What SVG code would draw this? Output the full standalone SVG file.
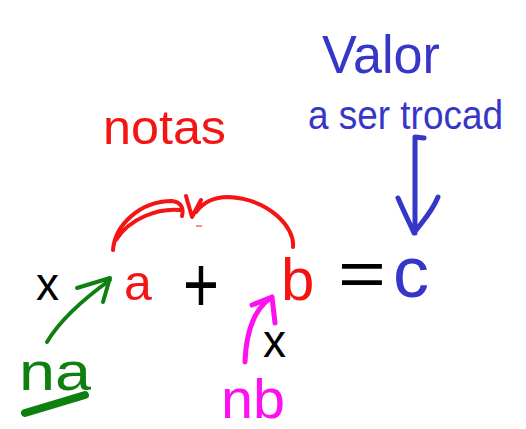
<svg xmlns="http://www.w3.org/2000/svg" width="526" height="429" viewBox="0 0 526 429">
<style>
text{font-family:"Liberation Sans",Arial,sans-serif}
.blue{fill:#3636c8}.red{fill:#f41414}.green{fill:#0f7f10}.mag{fill:#ff10f0}.blk{fill:#000}
.s{fill:none;stroke-linecap:round;stroke-linejoin:round}
.sb{stroke:#3636c8;stroke-width:5}.sr{stroke:#f41414;stroke-width:4}.sg{stroke:#0f7f10;stroke-width:4}.sm{stroke:#ff10f0;stroke-width:5}
</style>
<rect width="526" height="429" fill="#fff"/>
<g id="valor"><text class="blue" x="322" y="73" font-size="54" textLength="118" lengthAdjust="spacingAndGlyphs">Valor</text>
<text class="blue" x="308" y="129" font-size="40" textLength="195" lengthAdjust="spacingAndGlyphs">a ser trocad</text></g>
<g id="notas"><text class="red" x="103" y="144" font-size="48" textLength="123" lengthAdjust="spacingAndGlyphs">notas</text></g>
<g id="x1"><text class="blk" x="36" y="300" font-size="46">x</text></g>
<g id="a"><text class="red" x="124" y="300" font-size="50">a</text></g>
<g id="plus"><text class="blk" x="183" y="312" font-size="80" textLength="36" lengthAdjust="spacingAndGlyphs">+</text></g>
<g id="b"><text class="red" x="281" y="300" font-size="60">b</text></g>
<g id="eq"><text class="blk" x="338" y="296" font-size="64" textLength="48" lengthAdjust="spacingAndGlyphs">=</text></g>
<g id="c"><text class="blue" x="393" y="297" font-size="72" textLength="36" lengthAdjust="spacingAndGlyphs">c</text></g>
<g id="x2"><text class="blk" x="263" y="357" font-size="46">x</text></g>
<g id="na"><text class="green" x="19" y="390" font-size="54" textLength="72" lengthAdjust="spacingAndGlyphs">na</text>
<path d="M25,413 L85,395" class="s" stroke="#0f7f10" stroke-width="8"/></g>
<g id="nb"><text class="mag" x="221" y="418" font-size="56" textLength="64" lengthAdjust="spacingAndGlyphs">nb</text></g>
<g id="connectors">
<path class="s sg" d="M47,342 C60,320 85,298 110,280 M77,288 L110,278 L103,302"/>
<path class="s sm" d="M245,362 C246,335 252,310 272,297 M252,305 L272,297 L275,323"/>
<path class="s sb" d="M424,138 L415,137 L415,233 M398,198 C404,212 410,224 414,233 C422,222 432,212 438,197"/>
<path class="s sr" d="M113,250 C115,225 140,201 172,201 C181,202 184,208 182,216 M116,240 C130,218 158,208 180,210 M293,247 C295,228 270,199 228,197 C212,197 202,204 196,212 M186,196 L192,217 L201,200"/>
<path d="M196,226 L202,226" stroke="#f88" stroke-width="2"/>
</g>
</svg>
